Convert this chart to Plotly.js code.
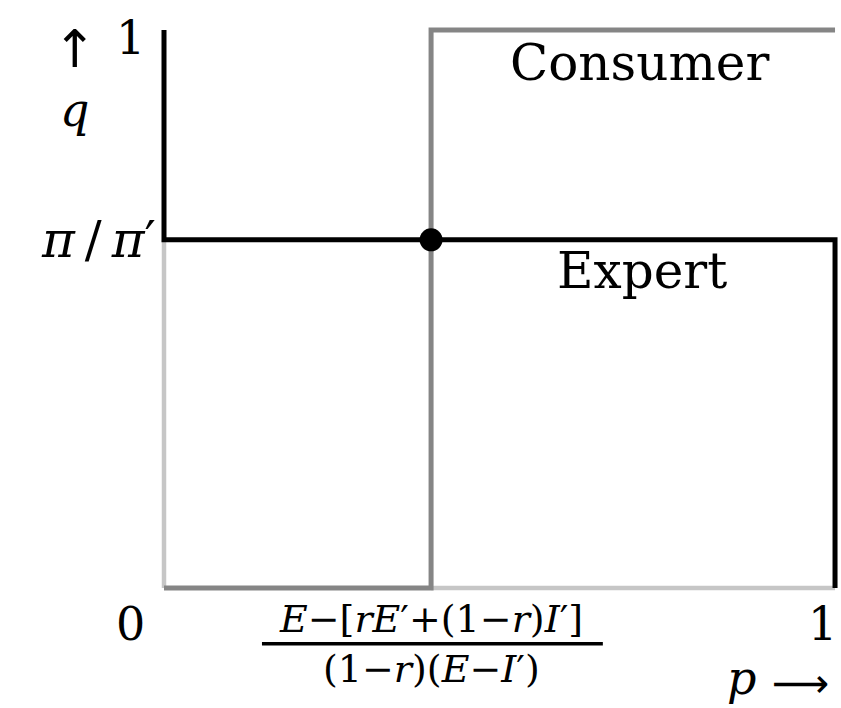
<!DOCTYPE html>
<html>
<head>
<meta charset="utf-8">
<script src="https://cdn.plot.ly/plotly-3.0.1.min.js"></script>
<style>
  html, body { margin: 0; padding: 0; background: #fff; }
  #chart { width: 841px; height: 708px; }
</style>
</head>
<body>
<div id="chart"></div>
<script>
// Threshold values on the unit square
const pStar = 0.398;   // E-[rE'+(1-r)I'] / ((1-r)(E-I'))
const qStar = 0.624;   // pi / pi'

// Expert best-response boundary
const expertP = [0, 0, pStar, 1, 1];
const expertQ = [1, qStar, qStar, qStar, 0];

// Consumer best-response boundary
const consumerP = [1, pStar, pStar, 0];
const consumerQ = [1, 1, 0, 0];

// Remaining edges of the unit square
const edgeP = [0, 0, null, pStar, 1];
const edgeQ = [qStar, 0, null, 0, 0];

// Equilibrium point
const eqP = [pStar];
const eqQ = [qStar];

// Labels
const regionLabels = ['Consumer', 'Expert'];
const yTickText = ['1', '<i>π</i>\u2009/\u2009<i>π</i>′'];
const xTickText = ['0', '1'];
const fracNum = '<i>E</i>−[<i>rE</i>′+(1−<i>r</i>)<i>I</i>′]';
const fracDen = '(1−<i>r</i>)(<i>E</i>−<i>I</i>′)';

const serif = 'DejaVu Serif, Liberation Serif, serif';
const big = { family: serif, size: 50, color: '#000' };
const mid = { family: serif, size: 46, color: '#000' };
const frac = { family: serif, size: 38, color: '#000' };
const arrowFont = { family: 'DejaVu Sans, sans-serif', size: 40, color: '#000' };
const upFont = { family: 'DejaVu Sans, sans-serif', size: 52, color: '#000' };

// Axis ranges reach a little past the unit square so the border
// strokes are drawn at full width.
const xr = [-0.0149, 1.0089];
const yr = [-0.0179, 1.0179];
const px = p => (p - xr[0]) / (xr[1] - xr[0]);
const py = q => (q - yr[0]) / (yr[1] - yr[0]);

const traces = [
  { x: edgeP, y: edgeQ, mode: 'lines', line: { color: '#c6c6c6', width: 4.5 }, hoverinfo: 'skip' },
  { x: consumerP, y: consumerQ, mode: 'lines', line: { color: '#858585', width: 5 }, hoverinfo: 'skip' },
  { x: expertP, y: expertQ, mode: 'lines', line: { color: '#000', width: 5 }, hoverinfo: 'skip' },
  { x: eqP, y: eqQ, mode: 'markers', marker: { color: '#000', size: 23 }, hoverinfo: 'skip' }
];

const ann = (p, q, text, font, extra) => Object.assign({
  x: px(p), y: py(q), xref: 'paper', yref: 'paper', text, font, showarrow: false,
  xanchor: 'center', yanchor: 'middle', borderpad: 0
}, extra || {});

const barQ = -0.1;

const annotations = [
  ann(0.709, 0.94, regionLabels[0], big),
  ann(0.712, 0.568, regionLabels[1], big),
  ann(-0.05, 0.985, yTickText[0], mid),
  ann(-0.01, qStar, yTickText[1], { family: serif, size: 50, color: '#000' }, { xanchor: 'right' }),
  ann(-0.05, -0.064, xTickText[0], mid),
  ann(0.982, -0.064, xTickText[1], mid),
  ann(pStar, barQ + 0.004, fracNum, frac, { yanchor: 'bottom' }),
  ann(pStar, barQ - 0.004, fracDen, frac, { yanchor: 'top' }),
  ann(0.861, -0.162, '<i>p</i>', mid),
  ann(0.948, -0.17, '⟶', arrowFont),
  ann(-0.133, 0.91, '↑', upFont, { yanchor: 'bottom' }),
  ann(-0.133, 0.906, '<i>q</i>', mid, { yanchor: 'top' })
];

const shapes = [
  // fraction bar under the p threshold
  { type: 'line', xref: 'paper', yref: 'paper',
    x0: px(pStar - 0.252), x1: px(pStar + 0.256),
    y0: py(barQ), y1: py(barQ), line: { color: '#000', width: 3.5 } }
];

const layout = {
  width: 841, height: 708,
  margin: { l: 154, r: 0, t: 20, b: 110, pad: 0 },
  paper_bgcolor: '#fff', plot_bgcolor: '#fff',
  showlegend: false,
  xaxis: { range: xr, visible: false, fixedrange: true },
  yaxis: { range: yr, visible: false, fixedrange: true },
  annotations, shapes
};

Plotly.newPlot('chart', traces, layout, { staticPlot: true });
</script>
</body>
</html>
